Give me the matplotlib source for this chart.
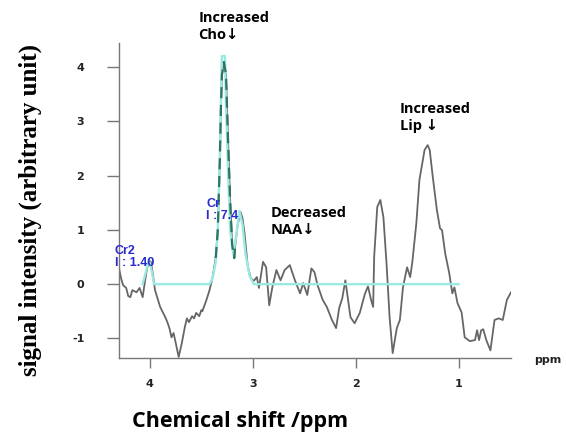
import matplotlib
matplotlib.use("Agg")
import matplotlib.pyplot as plt

# ---- data ----
spec_ppm = [4.30, 4.28, 4.26, 4.23, 4.21, 4.19, 4.17, 4.13, 4.10, 4.07, 4.05, 4.03, 4.01, 3.99,
            3.97, 3.95, 3.90, 3.85, 3.83, 3.81, 3.79, 3.77, 3.75, 3.72, 3.69, 3.66, 3.64, 3.62,
            3.59, 3.57, 3.55, 3.52, 3.50, 3.49, 3.45, 3.42, 3.39, 3.36, 3.34, 3.32, 3.31, 3.30,
            3.28, 3.26, 3.24, 3.22, 3.20, 3.18, 3.17, 3.15, 3.12, 3.10, 3.08, 3.05, 3.02, 2.99,
            2.96, 2.94, 2.90, 2.87, 2.84, 2.81, 2.77, 2.73, 2.69, 2.64, 2.59, 2.54, 2.51, 2.47,
            2.43, 2.40, 2.37, 2.32, 2.28, 2.23, 2.19, 2.16, 2.13, 2.10, 2.08, 2.05, 2.01, 1.96,
            1.91, 1.88, 1.85, 1.83, 1.82, 1.79, 1.76, 1.73, 1.70, 1.67, 1.64, 1.60, 1.57, 1.54,
            1.50, 1.47, 1.45, 1.41, 1.38, 1.35, 1.33, 1.30, 1.28, 1.25, 1.21, 1.18, 1.16, 1.13,
            1.09, 1.06, 1.04, 1.01, 0.97, 0.94, 0.89, 0.84, 0.82, 0.80, 0.78, 0.76, 0.73, 0.69,
            0.65, 0.61, 0.57, 0.53, 0.49]
spec_val = [0.29, 0.11, -0.02, -0.07, -0.22, -0.24, -0.11, -0.15, -0.07, -0.24, 0.02, 0.26, 0.44, 0.41,
            0.17, -0.11, -0.42, -0.61, -0.70, -0.81, -0.98, -0.90, -1.07, -1.34, -1.09, -0.79, -0.63, -0.70,
            -0.59, -0.63, -0.53, -0.59, -0.48, -0.50, -0.29, -0.11, 0.13, 0.48, 0.99, 2.28, 3.20, 3.85,
            4.09, 3.85, 2.65, 1.55, 0.72, 0.48, 0.72, 1.05, 1.33, 1.22, 0.94, 0.35, 0.11, 0.06,
            0.13, -0.07, 0.41, 0.31, -0.39, -0.06, 0.26, 0.07, 0.26, 0.35, 0.07, -0.17, 0.02, -0.20,
            0.29, 0.22, -0.02, -0.29, -0.42, -0.66, -0.81, -0.44, -0.26, 0.07, -0.20, -0.61, -0.72, -0.53,
            -0.18, -0.04, -0.29, -0.42, 0.50, 1.42, 1.55, 1.23, 0.39, -0.61, -1.27, -0.81, -0.66, -0.06,
            0.31, 0.13, 0.39, 1.12, 1.92, 2.25, 2.47, 2.56, 2.47, 1.97, 1.36, 1.03, 0.99, 0.57,
            0.20, -0.17, -0.06, -0.35, -0.52, -0.98, -1.05, -1.03, -0.85, -1.03, -0.85, -0.83, -1.03, -1.22,
            -0.66, -0.63, -0.66, -0.29, -0.15]

fit_ppm = [4.07, 4.04, 4.01, 3.98, 3.96, 3.42, 3.39, 3.36, 3.34, 3.32, 3.31, 3.30, 3.27, 3.26,
           3.24, 3.22, 3.19, 3.16, 3.13, 3.10, 3.07, 3.03, 2.99, 1.00]
fit_val = [0.00, 0.22, 0.46, 0.22, 0.00, 0.00, 0.11, 0.41, 1.00, 2.30, 3.30, 4.20, 4.20, 3.30,
           2.10, 1.00, 0.55, 0.90, 1.35, 1.10, 0.55, 0.15, 0.00, 0.00]

cho_range = (3.37, 3.17)

yticks = [-1, 0, 1, 2, 3, 4]
ytick_labels = ["-1", "0", "1", "2", "3", "4"]
xticks = [4, 3, 2, 1]
xtick_labels = ["4", "3", "2", "1"]

W, H = 566, 437
fig = plt.figure(figsize=(W / 100, H / 100), dpi=100)
ax = fig.add_axes([119 / W, 1 - 358 / H, (511 - 119) / W, (358 - 43) / H])
ax.set_xlim(4.30, 0.49)
ax.set_ylim(-1.36, 4.44)

ax.plot(spec_ppm, spec_val, color="#666666", lw=1.3, zorder=2)
ax.plot(fit_ppm, fit_val, color="#9ae9e2", lw=1.7, zorder=3)
cp = [p for p in spec_ppm if cho_range[1] <= p <= cho_range[0]]
cv = [v for p, v in zip(spec_ppm, spec_val) if cho_range[1] <= p <= cho_range[0]]
ax.plot(cp, cv, color="#2f7566", lw=1.6, ls=(0, (5, 3)), zorder=4)

for s in ["top", "right"]:
    ax.spines[s].set_visible(False)
for s in ["left", "bottom"]:
    ax.spines[s].set_color("#777777")
    ax.spines[s].set_linewidth(1.0)

ax.set_yticks(yticks)
ax.set_yticklabels(ytick_labels)
ax.set_xticks(xticks)
ax.set_xticklabels(xtick_labels)
ax.tick_params(axis="y", length=9, width=1, color="#777777", pad=16, labelsize=8)
ax.tick_params(axis="x", length=7, width=1, color="#777777", pad=8, labelsize=8)
for t in ax.get_xticklabels() + ax.get_yticklabels():
    t.set_fontweight("bold")
    t.set_color("#222222")

fam = ["Open Sans", "DejaVu Sans"]
ax.text(3.53, 5.03, "Increased\nCho\u2193", fontsize=10.5, fontweight="bold", family=fam,
        va="top", ha="left", linespacing=1.25, clip_on=False)
ax.text(1.57, 3.35, "Increased\nLip \u2193", fontsize=10.5, fontweight="bold", family=fam,
        va="top", ha="left", linespacing=1.25, clip_on=False)
ax.text(2.83, 1.44, "Decreased\nNAA\u2193", fontsize=10.5, fontweight="bold", family=fam,
        va="top", ha="left", linespacing=1.25, clip_on=False)

blue = "#2a2ad0"
ax.text(4.34, 0.72, "Cr2\nI : 1.40", fontsize=9, fontweight="bold", color=blue,
        family=["Liberation Sans"], va="top", ha="left", linespacing=1.05, clip_on=False, zorder=5)
ax.text(3.45, 1.59, "Cr\nI : 7.4", fontsize=9, fontweight="bold", color=blue,
        family=["Liberation Sans"], va="top", ha="left", linespacing=1.05, clip_on=False, zorder=5)

fig.text(548 / W, 1 - 360 / H, "ppm", fontsize=8, fontweight="bold", ha="center", va="center",
         color="#222222")
fig.text(240 / W, 1 - 422 / H, "Chemical shift /ppm", fontsize=15.5, fontweight="bold",
         family=fam, ha="center", va="center")
fig.text(30 / W, 1 - 210 / H, "signal intensity (arbitrary unit)", fontsize=18, fontweight="bold",
         family=["Liberation Serif"], rotation=90, ha="center", va="center")

fig.savefig("out.png", dpi=100)
